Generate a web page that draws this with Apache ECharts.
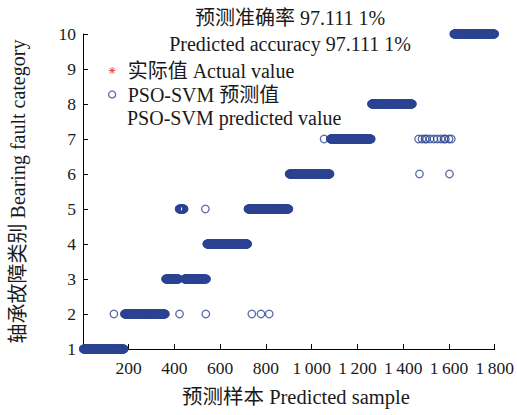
<!DOCTYPE html>
<html>
<head>
<meta charset="utf-8">
<script src="https://cdn.jsdelivr.net/npm/echarts@6/dist/echarts.min.js"></script>
<style>
html,body{margin:0;padding:0;background:#fff;}
#chart{width:517px;height:415px;}
</style>
</head>
<body>
<div id="chart"></div>
<script>
// ---- data ----
// actual class runs (sample index start/end, class)
const actualRunStart = [1, 181, 361, 541, 721, 901, 1081, 1261, 1621];
const actualRunEnd   = [180, 360, 540, 720, 900, 1080, 1260, 1440, 1800];
const actualRunValue = [1, 2, 3, 4, 5, 6, 7, 8, 10];
// predicted runs (dense bands)
const predRunStart = [1, 181, 361, 420, 443, 541, 721, 901, 1081, 1261, 1621];
const predRunEnd   = [180, 360, 419, 442, 540, 720, 900, 1080, 1260, 1440, 1800];
const predRunValue = [1, 2, 3, 5, 3, 4, 5, 6, 7, 8, 10];
// isolated predicted points (misclassified samples)
const errSample = [135, 422, 537, 738, 778, 814, 535, 1054, 1471, 1602,
                   1467, 1482, 1495, 1502, 1517, 1534, 1549, 1565, 1578, 1584, 1600, 1610];
const errPred   = [2, 2, 2, 2, 2, 2, 5, 7, 6, 6,
                   7, 7, 7, 7, 7, 7, 7, 7, 7, 7, 7, 7];
const xTicks = [0, 200, 400, 600, 800, 1000, 1200, 1400, 1600, 1800];
const yTicks = [1, 2, 3, 4, 5, 6, 7, 8, 9, 10];
const titleLines = ['预测准确率 97.111 1%', 'Predicted accuracy 97.111 1%'];
const seriesNames = ['实际值 Actual value', 'PSO-SVM 预测值'];
const seriesName2ndLine = 'PSO-SVM predicted value';
const xName = '预测样本 Predicted sample';
const yName = '轴承故障类别 Bearing fault category';

// ---- build point lists ----
const N = 1800;
function expandRuns(starts, ends, vals) {
  const arr = new Array(N + 1).fill(null);
  for (let r = 0; r < starts.length; r++) {
    for (let i = starts[r]; i <= ends[r]; i++) arr[i] = vals[r];
  }
  return arr;
}
const actualArr = expandRuns(actualRunStart, actualRunEnd, actualRunValue);
const predArr = expandRuns(predRunStart, predRunEnd, predRunValue);
errSample.forEach((s, k) => { predArr[s] = errPred[k]; });
const actualData = [], predData = [];
for (let i = 1; i <= N; i++) {
  if (actualArr[i] !== null) actualData.push([i, actualArr[i]]);
  if (predArr[i] !== null) predData.push([i, predArr[i]]);
}

// asterisk symbol path
function asteriskPath() {
  let d = 'path://';
  const L = 10, w = 1.3;
  for (let k = 0; k < 4; k++) {
    const a = k * Math.PI / 4, c = Math.cos(a), s = Math.sin(a);
    const pts = [[-L, -w], [L, -w], [L, w], [-L, w]].map(p => [
      (p[0] * c - p[1] * s + 10).toFixed(3), (p[0] * s + p[1] * c + 10).toFixed(3)]);
    d += 'M' + pts.map(p => p.join(',')).join('L') + 'Z';
  }
  return d;
}
const ASTER = asteriskPath();

const FONT = "'Liberation Serif','Times New Roman','Noto Sans CJK SC',serif";
const BLUE = '#2d4592';
const RED = '#dd3333';
const TXT = '#1a1a1a';

const chart = echarts.init(document.getElementById('chart'), null, {renderer: 'svg'});
chart.setOption({
  backgroundColor: '#fff',
  animation: false,
  title: [{
    text: titleLines[0],
    left: 290, top: 6, textAlign: 'center', padding: 0,
    textStyle: {fontFamily: FONT, fontSize: 20, fontWeight: 'normal', color: TXT, lineHeight: 24}
  }, {
    text: titleLines[1],
    left: 290, top: 32, textAlign: 'center', padding: 0,
    textStyle: {fontFamily: FONT, fontSize: 20, fontWeight: 'normal', color: TXT, lineHeight: 24}
  }],
  grid: {left: 82.4, right: 22, top: 34, bottom: 66, containLabel: false},
  legend: {
    orient: 'vertical',
    left: 108,
    top: 60,
    padding: 0,
    itemWidth: 7,
    itemHeight: 7,
    itemGap: 3,
    textStyle: {fontFamily: FONT, fontSize: 20, color: TXT, lineHeight: 21, padding: [0, 0, 0, 7]},
    data: [
      {name: seriesNames[0], icon: ASTER, itemStyle: {color: RED, borderWidth: 0}},
      {name: seriesNames[1], icon: 'circle', itemStyle: {color: 'rgba(0,0,0,0)', borderColor: BLUE, borderWidth: 1.3}}
    ]
  },
  graphic: [{
    type: 'text',
    left: 127,
    top: 108,
    style: {text: seriesName2ndLine, font: '20px ' + FONT, fill: TXT}
  }],
  xAxis: {
    type: 'value',
    min: xTicks[0],
    max: xTicks[xTicks.length - 1],
    interval: 200,
    name: xName,
    nameLocation: 'middle',
    nameGap: 38,
    nameTextStyle: {fontFamily: FONT, fontSize: 20.5, color: TXT, padding: [0, 0, 0, 14]},
    axisLine: {show: true, lineStyle: {color: '#000', width: 1}},
    axisTick: {show: true, inside: true, length: 5, lineStyle: {color: '#000'}},
    axisLabel: {
      fontFamily: FONT, fontSize: 17.5, color: TXT, margin: 10,
      formatter: v => v === 0 ? '' : (v >= 1000 ? Math.floor(v / 1000) + '\u2009' + String(v % 1000).padStart(3, '0') : String(v))
    },
    splitLine: {show: false}
  },
  yAxis: {
    type: 'value',
    min: yTicks[0],
    max: yTicks[yTicks.length - 1],
    interval: 1,
    name: yName,
    nameLocation: 'middle',
    nameGap: 55,
    nameTextStyle: {fontFamily: FONT, fontSize: 20, color: TXT},
    axisLine: {show: true, lineStyle: {color: '#000', width: 1}},
    axisTick: {show: true, inside: true, length: 5, lineStyle: {color: '#000'}},
    axisLabel: {fontFamily: FONT, fontSize: 17.5, color: TXT, margin: 7},
    splitLine: {show: false}
  },
  series: [
    {
      name: seriesNames[0],
      type: 'scatter',
      data: actualData,
      symbol: ASTER,
      symbolSize: 6,
      itemStyle: {color: RED},
      z: 2,
      silent: true,
      large: false
    },
    {
      name: seriesNames[1],
      type: 'scatter',
      data: predData,
      symbol: 'circle',
      symbolSize: 7.5,
      itemStyle: {color: 'rgba(0,0,0,0)', borderColor: BLUE, borderWidth: 1.3},
      z: 3,
      silent: true,
      large: false
    }
  ]
});
</script>
</body>
</html>
